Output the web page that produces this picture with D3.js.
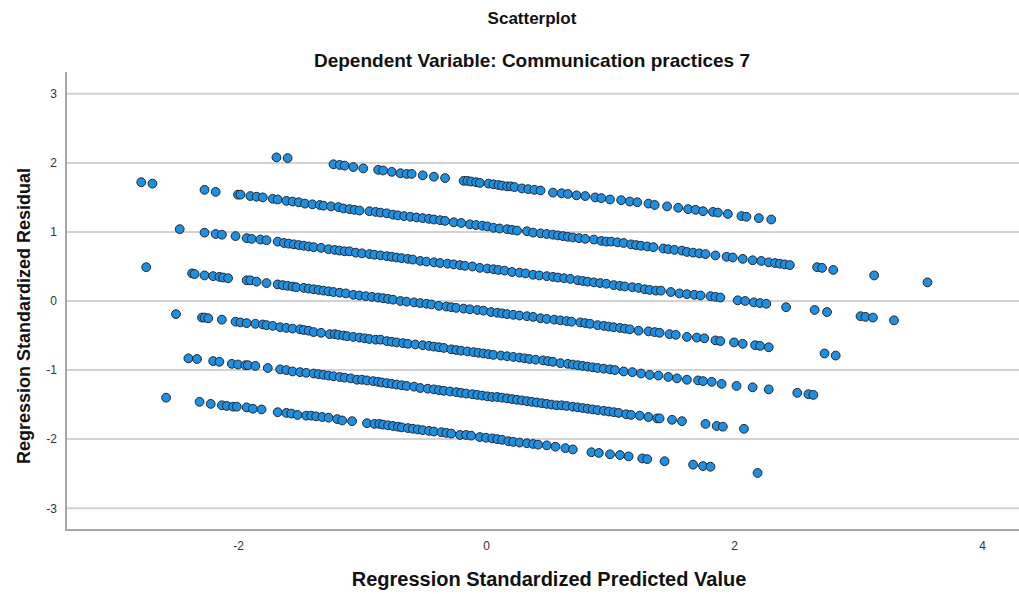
<!DOCTYPE html>
<html>
<head>
<meta charset="utf-8">
<script src="https://cdn.jsdelivr.net/npm/d3@7"></script>
<style>
  body { margin: 0; background: #fff; }
  svg { display: block; font-family: "Liberation Sans", Arial, sans-serif; }
  .title { font-weight: bold; fill: #111; }
</style>
</head>
<body>
<svg id="chart" width="1019" height="594"></svg>
<script>
// residuals grouped by response level (bands run top to bottom)
const band7 = [[-1.69,2.08],[-1.60,2.07],
  [-1.23,1.98],[-1.18,1.97],[-1.14,1.96],[-1.07,1.94],[-0.99,1.92],
  [-0.87,1.90],[-0.83,1.89],[-0.76,1.87],[-0.69,1.85],[-0.64,1.84],[-0.60,1.84],
  [-0.51,1.82],[-0.42,1.80],[-0.33,1.78],
  [-0.18,1.74],[-0.15,1.74],[-0.12,1.73],[-0.08,1.72],[-0.05,1.71],[0.02,1.70],[0.06,1.69],[0.10,1.68],[0.13,1.67],
  [0.17,1.66],[0.20,1.66],[0.23,1.65],[0.29,1.63],[0.34,1.62],[0.39,1.61],[0.44,1.60],
  [0.54,1.57],[0.61,1.56],[0.66,1.55],[0.73,1.53],[0.80,1.52],[0.88,1.50],[0.93,1.49],[1.00,1.47],[1.09,1.46],[1.16,1.44],[1.22,1.43],
  [1.31,1.41],[1.36,1.39],[1.46,1.37],[1.55,1.35],[1.63,1.33],[1.69,1.32],[1.75,1.30],[1.83,1.29],[1.87,1.28],[1.95,1.26],
  [2.06,1.23],[2.10,1.22],[2.20,1.20],[2.30,1.18]];

const band6 = [[-2.78,1.72],[-2.69,1.70],
  [-2.27,1.61],[-2.18,1.58],
  [-2.00,1.54],[-1.98,1.54],[-1.90,1.52],[-1.85,1.51],[-1.80,1.50],[-1.72,1.48],[-1.68,1.47],[-1.61,1.45],[-1.56,1.44],
  [-1.51,1.43],[-1.46,1.41],[-1.40,1.40],[-1.34,1.39],[-1.31,1.38],[-1.25,1.37],[-1.19,1.36],[-1.15,1.34],[-1.10,1.33],
  [-1.06,1.32],[-1.02,1.31],[-0.94,1.30],[-0.89,1.29],[-0.85,1.28],[-0.80,1.27],[-0.75,1.25],[-0.71,1.24],[-0.66,1.23],
  [-0.61,1.22],[-0.56,1.21],[-0.51,1.20],[-0.46,1.19],[-0.42,1.18],[-0.37,1.17],[-0.33,1.16],[-0.26,1.14],[-0.20,1.13],
  [-0.13,1.11],[-0.08,1.10],[-0.03,1.09],[0.01,1.08],[0.06,1.06],[0.11,1.05],[0.17,1.04],[0.21,1.03],[0.25,1.02],
  [0.33,1.01],[0.38,0.99],[0.44,0.98],[0.49,0.97],[0.54,0.96],[0.58,0.95],[0.62,0.94],[0.66,0.93],[0.70,0.92],[0.75,0.91],
  [0.80,0.90],[0.87,0.89],[0.93,0.87],[0.97,0.86],[1.01,0.86],[1.06,0.85],[1.11,0.84],[1.17,0.82],[1.21,0.81],[1.25,0.80],
  [1.30,0.79],[1.35,0.78],[1.43,0.76],[1.47,0.75],[1.52,0.74],[1.58,0.73],[1.62,0.71],[1.67,0.70],[1.72,0.69],[1.77,0.68],
  [1.85,0.66],[1.94,0.64],[1.99,0.63],[2.07,0.61],[2.15,0.59],[2.22,0.58],[2.28,0.56],[2.33,0.55],[2.37,0.54],[2.41,0.53],[2.45,0.52],
  [2.67,0.49],[2.71,0.48],[2.80,0.45],[3.13,0.37],[3.56,0.27]];

const band5 = [[-2.47,1.04],
  [-2.27,0.99],[-2.18,0.97],[-2.13,0.96],[-2.02,0.94],[-1.93,0.91],[-1.89,0.90],[-1.82,0.89],[-1.77,0.88],[-1.68,0.86],
  [-1.63,0.84],[-1.59,0.83],[-1.55,0.82],[-1.51,0.81],[-1.47,0.80],[-1.43,0.79],[-1.39,0.78],[-1.33,0.77],[-1.27,0.75],
  [-1.22,0.74],[-1.18,0.73],[-1.14,0.72],[-1.10,0.72],[-1.05,0.70],[-1.00,0.69],[-0.94,0.68],[-0.90,0.67],[-0.85,0.66],
  [-0.80,0.65],[-0.76,0.64],[-0.72,0.63],[-0.68,0.62],[-0.63,0.61],[-0.59,0.60],[-0.53,0.58],[-0.48,0.57],[-0.42,0.56],
  [-0.37,0.55],[-0.31,0.54],[-0.26,0.53],[-0.21,0.52],[-0.17,0.51],[-0.11,0.50],[-0.05,0.48],[0.01,0.47],[0.06,0.46],
  [0.10,0.45],[0.15,0.44],[0.21,0.42],[0.27,0.41],[0.32,0.40],[0.38,0.38],[0.43,0.37],[0.49,0.36],[0.54,0.35],[0.58,0.34],
  [0.63,0.33],[0.68,0.32],[0.74,0.30],[0.78,0.29],[0.82,0.28],[0.87,0.27],[0.92,0.26],[0.97,0.25],[1.03,0.23],[1.08,0.22],
  [1.12,0.21],[1.18,0.20],[1.23,0.19],[1.28,0.17],[1.32,0.16],[1.37,0.15],[1.41,0.15],[1.49,0.13],[1.56,0.11],[1.62,0.10],
  [1.68,0.09],[1.73,0.08],[1.81,0.07],[1.85,0.06],[1.89,0.05],[2.03,0.01],[2.09,0.00],[2.16,-0.02],[2.21,-0.03],[2.26,-0.04],
  [2.42,-0.09],
  [2.65,-0.13],[2.75,-0.16],[3.02,-0.22],[3.06,-0.23],[3.12,-0.24],[3.29,-0.28]];

const band4 = [[-2.74,0.49],
  [-2.37,0.40],[-2.35,0.39],[-2.27,0.37],[-2.20,0.36],[-2.15,0.35],[-2.12,0.34],[-2.08,0.33],[-1.93,0.30],[-1.90,0.30],
  [-1.85,0.28],[-1.77,0.26],[-1.68,0.24],[-1.64,0.23],[-1.60,0.22],[-1.56,0.21],[-1.53,0.20],[-1.47,0.19],[-1.43,0.18],
  [-1.39,0.17],[-1.35,0.16],[-1.31,0.15],[-1.27,0.14],[-1.23,0.13],[-1.18,0.12],[-1.13,0.11],[-1.07,0.09],[-1.02,0.08],
  [-0.97,0.07],[-0.92,0.06],[-0.87,0.05],[-0.83,0.04],[-0.79,0.03],[-0.75,0.02],[-0.69,0.00],[-0.64,-0.01],[-0.58,-0.02],
  [-0.53,-0.03],[-0.48,-0.04],[-0.44,-0.05],[-0.38,-0.07],[-0.32,-0.08],[-0.28,-0.09],[-0.24,-0.10],[-0.18,-0.11],
  [-0.13,-0.12],[-0.07,-0.13],[-0.02,-0.14],[0.04,-0.16],[0.09,-0.17],[0.13,-0.18],[0.17,-0.19],[0.22,-0.20],[0.27,-0.21],
  [0.33,-0.22],[0.38,-0.23],[0.44,-0.25],[0.49,-0.26],[0.55,-0.27],[0.60,-0.28],[0.65,-0.29],[0.69,-0.30],[0.76,-0.31],
  [0.80,-0.32],[0.84,-0.33],[0.90,-0.35],[0.95,-0.36],[0.99,-0.37],[1.03,-0.38],[1.08,-0.39],[1.12,-0.40],[1.16,-0.41],
  [1.23,-0.43],[1.31,-0.44],[1.36,-0.45],[1.40,-0.46],[1.48,-0.48],[1.53,-0.49],[1.62,-0.52],[1.70,-0.53],[1.76,-0.54],
  [1.85,-0.57],[1.89,-0.58],[2.00,-0.60],[2.07,-0.62],[2.17,-0.64],[2.21,-0.65],[2.28,-0.67],
  [2.73,-0.76],[2.82,-0.79]];

const band3 = [[-2.50,-0.19],
  [-2.29,-0.24],[-2.27,-0.24],[-2.24,-0.25],[-2.13,-0.27],[-2.02,-0.30],[-1.98,-0.31],[-1.93,-0.32],[-1.86,-0.33],
  [-1.80,-0.34],[-1.77,-0.35],[-1.72,-0.36],[-1.66,-0.38],[-1.61,-0.39],[-1.56,-0.40],[-1.50,-0.41],[-1.47,-0.42],
  [-1.43,-0.43],[-1.39,-0.45],[-1.33,-0.46],[-1.26,-0.48],[-1.22,-0.48],[-1.19,-0.49],[-1.15,-0.50],[-1.12,-0.51],
  [-1.07,-0.52],[-1.02,-0.53],[-0.98,-0.54],[-0.94,-0.55],[-0.89,-0.56],[-0.85,-0.56],[-0.80,-0.58],[-0.76,-0.59],
  [-0.72,-0.60],[-0.67,-0.61],[-0.63,-0.62],[-0.57,-0.63],[-0.51,-0.64],[-0.46,-0.65],[-0.42,-0.66],[-0.38,-0.67],
  [-0.34,-0.68],[-0.28,-0.70],[-0.24,-0.71],[-0.20,-0.72],[-0.15,-0.73],[-0.10,-0.74],[-0.06,-0.75],[-0.02,-0.76],
  [0.02,-0.77],[0.06,-0.78],[0.12,-0.79],[0.17,-0.80],[0.22,-0.81],[0.27,-0.82],[0.31,-0.83],[0.35,-0.84],[0.40,-0.85],
  [0.46,-0.86],[0.50,-0.87],[0.54,-0.88],[0.60,-0.90],[0.66,-0.91],[0.70,-0.92],[0.74,-0.93],[0.78,-0.94],[0.82,-0.95],
  [0.86,-0.96],[0.90,-0.97],[0.95,-0.98],[1.00,-0.99],[1.04,-1.00],[1.11,-1.02],[1.18,-1.03],[1.25,-1.05],[1.32,-1.07],
  [1.39,-1.08],[1.47,-1.10],[1.54,-1.12],[1.62,-1.14],[1.71,-1.15],[1.75,-1.16],[1.82,-1.17],[1.90,-1.20],[2.02,-1.23],
  [2.15,-1.25],[2.28,-1.28],
  [2.51,-1.33],[2.60,-1.35],[2.64,-1.36]];

const band2 = [[-2.40,-0.83],[-2.33,-0.84],[-2.20,-0.87],[-2.15,-0.88],[-2.05,-0.91],[-2.00,-0.92],[-1.94,-0.93],
  [-1.92,-0.93],[-1.86,-0.94],[-1.76,-0.97],[-1.66,-0.99],[-1.61,-1.00],[-1.56,-1.02],[-1.50,-1.03],[-1.45,-1.04],
  [-1.39,-1.05],[-1.35,-1.06],[-1.31,-1.07],[-1.27,-1.08],[-1.23,-1.09],[-1.18,-1.10],[-1.14,-1.11],[-1.09,-1.12],
  [-1.04,-1.14],[-1.00,-1.14],[-0.96,-1.15],[-0.91,-1.16],[-0.87,-1.17],[-0.84,-1.18],[-0.80,-1.19],[-0.76,-1.20],
  [-0.72,-1.21],[-0.68,-1.22],[-0.64,-1.23],[-0.58,-1.24],[-0.53,-1.26],[-0.47,-1.27],[-0.42,-1.28],[-0.38,-1.29],
  [-0.34,-1.30],[-0.29,-1.31],[-0.24,-1.32],[-0.20,-1.33],[-0.16,-1.34],[-0.11,-1.35],[-0.07,-1.36],[-0.03,-1.37],
  [0.01,-1.38],[0.05,-1.39],[0.09,-1.39],[0.13,-1.40],[0.17,-1.41],[0.21,-1.42],[0.25,-1.43],[0.29,-1.44],[0.33,-1.45],
  [0.37,-1.46],[0.41,-1.47],[0.45,-1.48],[0.49,-1.49],[0.53,-1.50],[0.57,-1.51],[0.61,-1.51],[0.65,-1.52],[0.70,-1.53],
  [0.74,-1.54],[0.78,-1.55],[0.82,-1.56],[0.86,-1.57],[0.90,-1.58],[0.95,-1.59],[0.99,-1.60],[1.03,-1.61],[1.07,-1.62],
  [1.13,-1.64],[1.17,-1.65],[1.24,-1.66],[1.31,-1.68],[1.38,-1.70],[1.40,-1.70],[1.50,-1.72],[1.58,-1.74],
  [1.77,-1.78],[1.86,-1.81],[1.91,-1.82],[2.08,-1.85]];

const band1 = [[-2.58,-1.40],[-2.31,-1.46],[-2.22,-1.49],[-2.13,-1.51],[-2.09,-1.52],[-2.04,-1.53],[-2.01,-1.53],
  [-1.93,-1.54],[-1.88,-1.56],[-1.81,-1.57],[-1.68,-1.61],[-1.61,-1.62],[-1.57,-1.63],[-1.52,-1.65],[-1.45,-1.66],
  [-1.41,-1.66],[-1.37,-1.67],[-1.32,-1.68],[-1.27,-1.69],[-1.20,-1.71],[-1.16,-1.73],[-1.08,-1.74],
  [-0.96,-1.77],[-0.90,-1.78],[-0.86,-1.78],[-0.83,-1.79],[-0.79,-1.80],[-0.75,-1.81],[-0.71,-1.82],[-0.68,-1.83],
  [-0.63,-1.84],[-0.59,-1.85],[-0.55,-1.86],[-0.51,-1.87],[-0.46,-1.88],[-0.42,-1.89],[-0.36,-1.90],[-0.32,-1.91],
  [-0.28,-1.92],[-0.21,-1.94],[-0.16,-1.94],[-0.12,-1.95],[-0.05,-1.97],[0.00,-1.98],[0.05,-1.99],[0.09,-2.00],
  [0.13,-2.01],[0.18,-2.03],[0.22,-2.04],[0.27,-2.05],[0.33,-2.06],[0.38,-2.07],[0.42,-2.08],[0.49,-2.09],[0.56,-2.11],
  [0.64,-2.13],[0.70,-2.15],[0.85,-2.19],[0.91,-2.20],[1.00,-2.22],[1.08,-2.23],[1.15,-2.25],[1.26,-2.28],[1.30,-2.29],
  [1.44,-2.32],[1.67,-2.37],[1.75,-2.39],[1.81,-2.40],[2.19,-2.49]];

const bands = [band7, band6, band5, band4, band3, band2, band1];

const xTicks = [-2, 0, 2, 4];
const yTicks = [-3, -2, -1, 0, 1, 2, 3];
const xDomain = [-3.387, 4.298];
const yDomain = [-3.316, 3.316];

const title = 'Scatterplot';
const subtitle = 'Dependent Variable: Communication practices 7';
const xLabel = 'Regression Standardized Predicted Value';
const yLabel = 'Regression Standardized Residual';

// dimension stuff
const W = 1019;
const H = 594;
const marginTop = 72;
const marginBottom = 64;
const marginLeft = 66;
const marginRight = 0;

const x = d3.scaleLinear().domain(xDomain).range([marginLeft, W - marginRight]);
const y = d3.scaleLinear().domain(yDomain).range([H - marginBottom, marginTop]);

// plain hyphen for negatives, like the original
const fmt = d => String(d);

const $svg = d3.select('#chart');

// gridlines
$svg.append('g')
  .selectAll('line')
  .data(yTicks)
  .join('line')
  .attr('x1', marginLeft)
  .attr('x2', W - marginRight)
  .attr('y1', d => y(d))
  .attr('y2', d => y(d))
  .attr('stroke', '#d3d3d3')
  .attr('stroke-width', 2);

// axes (labels only, no tick marks)
const $yAxis = $svg.append('g')
  .attr('transform', `translate(${marginLeft},0)`)
  .call(d3.axisLeft(y).tickValues(yTicks).tickSize(0).tickPadding(9).tickFormat(fmt));
$yAxis.select('.domain').remove();

const $xAxis = $svg.append('g')
  .attr('transform', `translate(0,${H - marginBottom})`)
  .call(d3.axisBottom(x).tickValues(xTicks).tickSize(0).tickPadding(11).tickFormat(fmt));
$xAxis.select('.domain').remove();

$svg.selectAll('.tick text')
  .attr('font-family', '"Liberation Sans", Arial, sans-serif')
  .attr('font-size', 12)
  .attr('fill', '#333');

// axis lines
$svg.append('line')
  .attr('x1', marginLeft).attr('x2', marginLeft)
  .attr('y1', marginTop).attr('y2', H - marginBottom)
  .attr('stroke', '#a6a6a6').attr('stroke-width', 2);
$svg.append('line')
  .attr('x1', marginLeft - 1).attr('x2', W - marginRight)
  .attr('y1', H - marginBottom).attr('y2', H - marginBottom)
  .attr('stroke', '#a6a6a6').attr('stroke-width', 2);

// points
const points = bands.flat();
$svg.append('g')
  .selectAll('circle')
  .data(points)
  .join('circle')
  .attr('cx', d => x(d[0]))
  .attr('cy', d => y(d[1]))
  .attr('r', 4.4)
  .attr('fill', '#1e8fe1')
  .attr('stroke', '#1c2733')
  .attr('stroke-width', 1);

// titles
$svg.append('text').attr('class', 'title')
  .attr('x', 532).attr('y', 24)
  .attr('text-anchor', 'middle').attr('font-size', 17)
  .text(title);
$svg.append('text').attr('class', 'title')
  .attr('x', 532).attr('y', 67)
  .attr('text-anchor', 'middle').attr('font-size', 19)
  .text(subtitle);
$svg.append('text').attr('class', 'title')
  .attr('x', 549).attr('y', 586)
  .attr('text-anchor', 'middle').attr('font-size', 20)
  .text(xLabel);
$svg.append('text').attr('class', 'title')
  .attr('transform', 'translate(30,316) rotate(-90)')
  .attr('text-anchor', 'middle').attr('font-size', 18)
  .text(yLabel);
</script>
</body>
</html>
